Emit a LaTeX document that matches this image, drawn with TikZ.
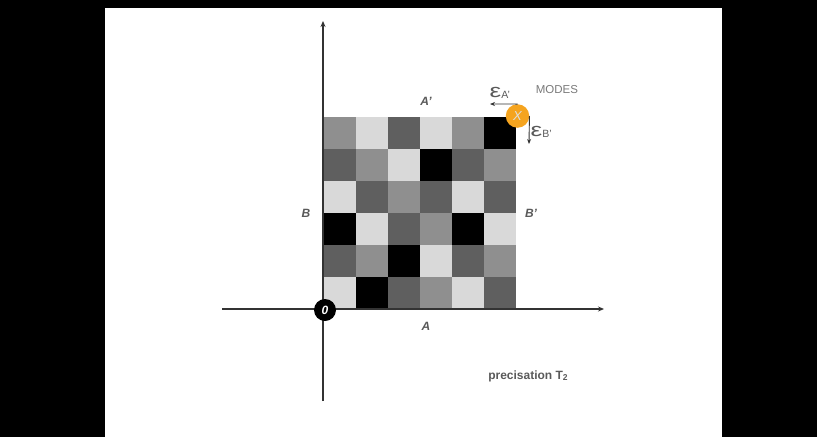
\documentclass[tikz,border=0pt]{standalone}
\usepackage{fontspec}
\setmainfont{Liberation Sans}
\usetikzlibrary{arrows.meta}
\definecolor{cK}{HTML}{000000}
\definecolor{cD}{HTML}{5F5F5F}
\definecolor{cM}{HTML}{8F8F8F}
\definecolor{cL}{HTML}{D9D9D9}
\definecolor{labgray}{HTML}{5A5A5A}
\definecolor{modegray}{HTML}{7A7A7A}
\definecolor{xorange}{HTML}{F5A41F}
\definecolor{axisgray}{HTML}{333333}
\newcommand{\myeps}{\scalebox{1.3}[0.95]{\fontsize{20}{20}\selectfont ε}}
\begin{document}
\begin{tikzpicture}[x=1pt,y=-1pt,
  cell/.style={minimum size=32pt,inner sep=0pt,outer sep=0pt,draw=none},
  axis/.style={draw=axisgray,line width=1.1pt,-{Stealth[length=6pt,width=5pt]}},
  epsarrow/.style={draw=axisgray,line width=0.9pt,-{Stealth[length=5pt,width=4pt]}},
  lab/.style={text=labgray,font=\fontsize{12}{12}\selectfont\bfseries\itshape,inner sep=0pt},
  epslab/.style={text=labgray,inner sep=0pt,anchor=base west}]
% frame
\fill[black] (0,0) rectangle (817,437);
\fill[white] (105,8) rectangle (722,437);
\useasboundingbox (0,0) rectangle (817,437);
% grid
\foreach \row [count=\r] in {{M,L,D,L,M,K},{D,M,L,K,D,M},{L,D,M,D,L,D},{K,L,D,M,K,L},{D,M,K,L,D,M},{L,K,D,M,L,D}}{
  \foreach \c [count=\i] in \row {
    \node[cell,fill=c\c] (g-\r-\i) at ({324+(\i-0.5)*32},{117+(\r-0.5)*32}) {};
  }
}
% axes
\coordinate (yb) at (323,401);
\coordinate (yt) at (323,21);
\coordinate (xl) at (222,309);
\coordinate (xr) at (604,309);
\draw[axis] (yb) -- (yt);
\draw[axis] (xl) -- (xr);
% origin
\node[circle,fill=black,minimum size=22pt,inner sep=0pt,text=white,font=\fontsize{12}{12}\selectfont\bfseries\itshape] (O) at (325,310) {0};
% X
\coordinate (ea) at (490,104);
\coordinate (eb) at (529,144);
\node[circle,fill=xorange,minimum size=23.5pt,inner sep=0pt,text=white!75!gray,font=\fontsize{13}{13}\selectfont\itshape] (X) at (517.5,116) {X};
\draw[epsarrow] (X.north) -- (ea);
\draw[epsarrow] (X.east) -- (eb);
\node[epslab] (ealab) at (489.5,97) {\myeps{\fontsize{10.5}{11}\selectfont\raisebox{-1.5pt}{A'}}};
\node[epslab] (eblab) at (530.5,136) {\myeps{\fontsize{10.5}{11}\selectfont\raisebox{-1.5pt}{B'}}};
\node[text=modegray,font=\fontsize{11.5}{12}\selectfont,inner sep=0pt] (modes) at (557,90) {MODES};
% labels
\node[lab] (Ap) at (426,101) {A'};
\node[lab] (B) at (306,213) {B};
\node[lab] (Bp) at (531,213) {B'};
\node[lab] (A) at (426,326) {A};
\node[text=labgray,font=\fontsize{12}{12}\selectfont\bfseries,inner sep=0pt] (prec) at (528,376) {precisation T\raisebox{-1.5pt}{\fontsize{8.5}{9}\selectfont 2}};
\end{tikzpicture}
\end{document}
